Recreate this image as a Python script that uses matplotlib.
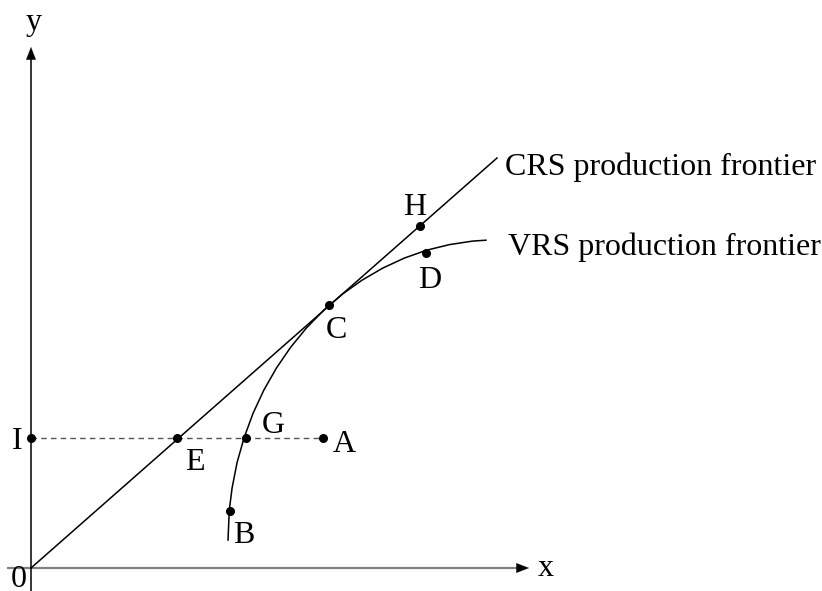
import matplotlib
matplotlib.use("Agg")
import matplotlib.pyplot as plt

plt.rcParams['font.family'] = ['Liberation Serif', 'DejaVu Serif']

# ---- data (units; origin at 0) ----
crs_x = [0, 466]
crs_y = [0, 410]

vrs_x = [197, 198.3, 201.1, 206.1, 213.2, 222.1, 232.9, 245.5, 259.7, 275.5,
         292.7, 311.3, 331, 351.7, 373.3, 395.6, 418.5, 441.6, 455]
vrs_y = [28, 58, 80.1, 105.6, 130.6, 154.8, 178, 200.1, 220.8, 240.1,
         257.8, 273.8, 287.8, 299.9, 309.9, 317.8, 323.4, 326.9, 327.8]

point_names = ['I', 'E', 'G', 'A', 'B', 'C', 'D', 'H']
point_x = [0, 146, 215, 292, 199, 298, 395, 389]
point_y = [130, 130, 130, 130, 57, 263, 315, 342]

label_names = ['I', 'E', 'G', 'A', 'B', 'C', 'D', 'H']
label_x = [-19, 154, 231, 302, 202, 295, 387, 372]
label_y = [119, 98, 135, 116, 25, 230, 280, 353]

dash_x = [0, 292]
dash_y = [130, 130]

fig = plt.figure(figsize=(8.22, 5.91), dpi=100)
ax = fig.add_axes([0, 0, 1, 1])
ax.set_xlim(-31, 791)
ax.set_ylim(-23, 568)
ax.axis('off')

FS = 23

# axes
ax.plot([-24, 488], [0, 0], color='#808080', lw=1.6, solid_capstyle='butt')
ax.annotate('', xy=(498, 0), xytext=(486, 0),
            arrowprops=dict(arrowstyle='-|>,head_length=0.9,head_width=0.35',
                            color='black', lw=0.1, shrinkA=0, shrinkB=0))
ax.plot([0, 0], [-23, 512], color='black', lw=1.1, solid_capstyle='butt')
ax.annotate('', xy=(0, 521), xytext=(0, 509),
            arrowprops=dict(arrowstyle='-|>,head_length=0.9,head_width=0.35',
                            color='black', lw=0.1, shrinkA=0, shrinkB=0))
ax.text(3, 538, 'y', fontsize=FS, ha='center', va='baseline')
ax.text(515, -8, 'x', fontsize=FS, ha='center', va='baseline')
ax.text(-12, -19, '0', fontsize=FS, ha='center', va='baseline', clip_on=False)

# frontiers
ax.plot(crs_x, crs_y, color='black', lw=1.1)
ax.plot(vrs_x, vrs_y, color='black', lw=1.1)
ax.plot(dash_x, dash_y, color='#555555', lw=1.0, dashes=(4, 3))

ax.plot(point_x, point_y, 'o', color='black', markersize=5.5)

for n, x, y in zip(label_names, label_x, label_y):
    ax.text(x, y, n, fontsize=FS, ha='left', va='baseline')

ax.text(474, 393, 'CRS production frontier', fontsize=FS, ha='left', va='baseline')
ax.text(477, 313, 'VRS production frontier', fontsize=FS, ha='left', va='baseline')

fig.savefig('out.png', dpi=100)
